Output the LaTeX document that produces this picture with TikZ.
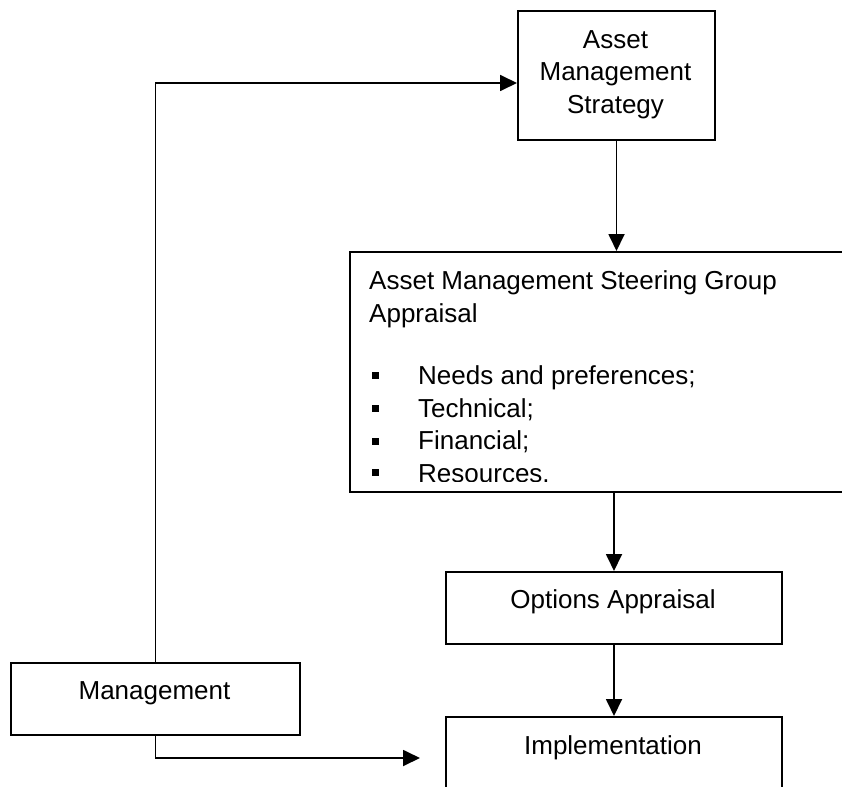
\documentclass[tikz,border=0pt]{standalone}
\usepackage{fontspec}
\setmainfont{Liberation Sans}
\usetikzlibrary{arrows.meta}
\begin{document}
\begin{tikzpicture}[x=1pt,y=-1pt,
  box/.style={draw, line width=2pt, inner sep=0pt, anchor=north west},
  lbl/.style={font=\fontsize{26}{32.5}\selectfont, inner sep=0pt},
  arr/.style={line width=1.8pt, -{Triangle[length=17pt,width=16pt]}},
  bul/.style={fill, minimum size=7pt, inner sep=0pt}]
\useasboundingbox (0,0) rectangle (842,786);
\clip (0,0) rectangle (842,786);

% boxes
\node[box, minimum width=197pt, minimum height=129pt] (ams) at (517,10) {};
\node[box, minimum width=530pt, minimum height=240pt] (steer) at (349,251) {};
\node[box, minimum width=336pt, minimum height=72pt] (opt) at (445,571) {};
\node[box, minimum width=336pt, minimum height=100pt] (impl) at (445,716) {};
\node[box, minimum width=289pt, minimum height=72pt] (mgmt) at (10,662) {};

% texts
\node[lbl, anchor=base, align=center] (amst) at (615.5,113.5) {Asset\\Management\\Strategy};
\node[lbl, anchor=base] (optt) at (613,608.5) {Options Appraisal};
\node[lbl, anchor=base] (implt) at (613,754.5) {Implementation};
\node[lbl, anchor=base] (mgmtt) at (154.5,699.5) {Management};

\begin{scope}
\clip (349,251) rectangle (842,481);
\node[lbl, anchor=base west] (st1) at (369,289.5) {Asset Management Steering Group};
\node[lbl, anchor=base west] (st2) at (369,322) {Appraisal};
\node[lbl, anchor=base west] (i1) at (418,384.5) {Needs and preferences;};
\node[lbl, anchor=base west] (i2) at (418,417) {Technical;};
\node[lbl, anchor=base west] (i3) at (418,449.5) {Financial;};
\node[lbl, anchor=base west] (i4) at (418,482) {Resources.};
\node[bul] (b1) at (375.5,375) {};
\node[bul] (b2) at (375.5,408) {};
\node[bul] (b3) at (375.5,441) {};
\node[bul] (b4) at (375.5,472) {};
\end{scope}

% connectors
\coordinate (mend) at (420,758);
\draw[arr] (mgmt.north) |- ([yshift=-7.5pt]ams.west);
\draw[arr] (mgmt.south) |- (mend);
\draw[arr] (ams.south) -- (ams.south |- steer.north);
\draw[arr] (opt.north |- steer.south) -- (opt.north);
\draw[arr] (opt.south) -- (impl.north);
\end{tikzpicture}
\end{document}
